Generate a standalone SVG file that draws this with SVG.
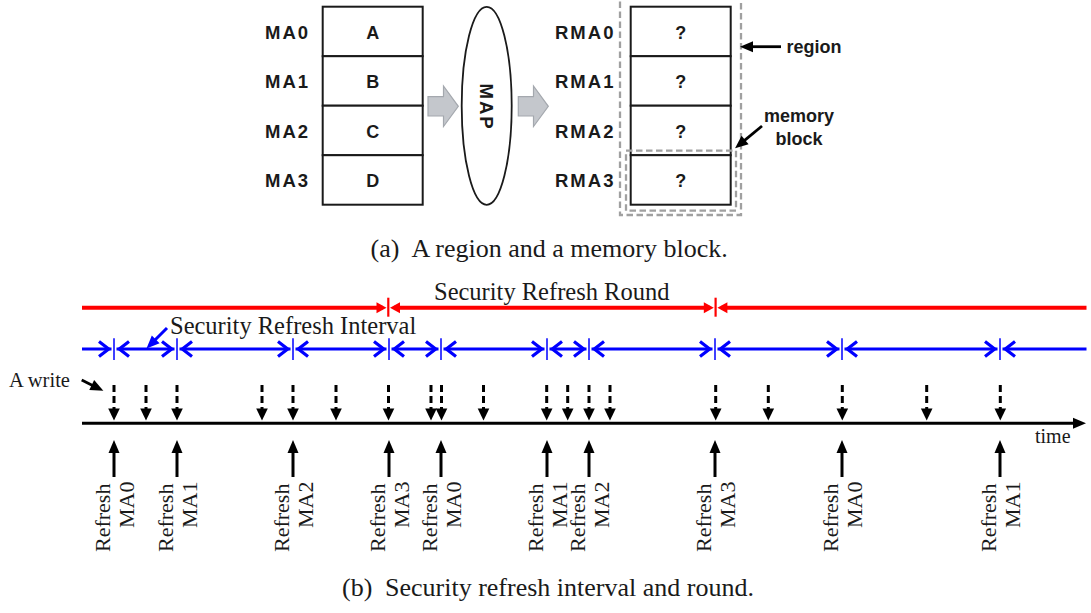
<svg xmlns="http://www.w3.org/2000/svg" width="1091" height="613" viewBox="0 0 1091 613">
  <style>
    .lbl { font-family: "Liberation Sans", Arial, sans-serif; font-weight: bold; font-size: 18px; fill: #1a1a1a; }
    .sp { font-size: 18.5px; letter-spacing: 2px; }
    .cell { fill: #ffffff; stroke: #1a1a1a; stroke-width: 2; }
    .blk { fill: #c4c7cc; stroke: #a4a8ae; stroke-width: 1.2; }
    .dash { fill: none; stroke: #a0a0a0; stroke-width: 2.3; stroke-dasharray: 6.5 3.5; }
    .serif { font-family: "Liberation Serif", "Times New Roman", serif; fill: #1a1a1a; }
    .cap { font-size: 26px; }
    .big { font-size: 24.5px; }
    .rf { font-size: 22px; }
    .red { stroke: #ff0000; stroke-width: 4; fill: none; }
    .blue { stroke: #0000ff; stroke-width: 3; fill: none; }
    .btick { stroke: #0000ff; stroke-width: 1.5; }
    .rtick { stroke: #ff0000; stroke-width: 2.2; }
    .wr { stroke: #000; stroke-width: 3; stroke-dasharray: 7 4; marker-end: url(#wtri); }
    .up { stroke: #000; stroke-width: 3; marker-end: url(#tri); }
    .ink { stroke: #000; stroke-width: 2.8; fill: none; }
  </style>
  <defs>
    <marker id="chev" markerUnits="userSpaceOnUse" viewBox="-16 -10 20 20" refX="0" refY="0" markerWidth="20" markerHeight="20" orient="auto-start-reverse" overflow="visible">
      <path d="M-12.5,-7.5 L-2.8,0 L-12.5,7.5" fill="none" stroke="#0000ff" stroke-width="3.2"/>
    </marker>
    <marker id="rtri" markerUnits="userSpaceOnUse" viewBox="-10 -8 16 16" refX="0" refY="0" markerWidth="16" markerHeight="16" orient="auto-start-reverse" overflow="visible">
      <path d="M-6,-5.5 L4,0 L-6,5.5 Z" fill="#ff0000"/>
    </marker>
    <marker id="tri" markerUnits="userSpaceOnUse" viewBox="-2 -8 16 16" refX="0" refY="0" markerWidth="16" markerHeight="16" orient="auto" overflow="visible">
      <path d="M-1,-5.5 L12,0 L-1,5.5 Z" fill="#000"/>
    </marker>
    <marker id="wtri" markerUnits="userSpaceOnUse" viewBox="-2 -8 16 16" refX="0" refY="0" markerWidth="16" markerHeight="16" orient="auto" overflow="visible">
      <path d="M-1,-5.8 L11,0 L-1,5.8 Z" fill="#000"/>
    </marker>
    <marker id="btri" markerUnits="userSpaceOnUse" viewBox="-2 -8 16 16" refX="0" refY="0" markerWidth="16" markerHeight="16" orient="auto" overflow="visible">
      <path d="M-1,-5.5 L12,0 L-1,5.5 Z" fill="#0000ff"/>
    </marker>
  </defs>

  <rect width="1091" height="613" fill="#ffffff"/>

  <!-- (a) memory addresses, mapping and remapped region -->
  <g id="ma-table">
    <g id="ma0"><rect class="cell" x="322.7" y="6.7" width="100" height="49.5"/><text class="lbl sp" x="265" y="38.5">MA0</text><text class="lbl" x="372.7" y="38.5" text-anchor="middle">A</text></g>
    <g id="ma1"><rect class="cell" x="322.7" y="56.2" width="100" height="49.5"/><text class="lbl sp" x="265" y="88">MA1</text><text class="lbl" x="372.7" y="88" text-anchor="middle">B</text></g>
    <g id="ma2"><rect class="cell" x="322.7" y="105.7" width="100" height="49.5"/><text class="lbl sp" x="265" y="137.5">MA2</text><text class="lbl" x="372.7" y="137.5" text-anchor="middle">C</text></g>
    <g id="ma3"><rect class="cell" x="322.7" y="155.2" width="100" height="49.5"/><text class="lbl sp" x="265" y="187">MA3</text><text class="lbl" x="372.7" y="187" text-anchor="middle">D</text></g>
  </g>

  <g id="map">
    <ellipse cx="486.7" cy="105.8" rx="25" ry="99" fill="#ffffff" stroke="#1a1a1a" stroke-width="1.8"/>
    <text class="lbl sp" transform="translate(480,83.5) rotate(90)">MAP</text>
  </g>

  <g id="rma-table">
    <g id="rma0"><rect class="cell" x="630.7" y="6.7" width="100" height="49.5"/><text class="lbl sp" x="555" y="38.5">RMA0</text><text class="lbl" x="680.7" y="38.5" text-anchor="middle">?</text></g>
    <g id="rma1"><rect class="cell" x="630.7" y="56.2" width="100" height="49.5"/><text class="lbl sp" x="555" y="88">RMA1</text><text class="lbl" x="680.7" y="88" text-anchor="middle">?</text></g>
    <g id="rma2"><rect class="cell" x="630.7" y="105.7" width="100" height="49.5"/><text class="lbl sp" x="555" y="137.5">RMA2</text><text class="lbl" x="680.7" y="137.5" text-anchor="middle">?</text></g>
    <g id="rma3"><rect class="cell" x="630.7" y="155.2" width="100" height="49.5"/><text class="lbl sp" x="555" y="187">RMA3</text><text class="lbl" x="680.7" y="187" text-anchor="middle">?</text></g>
  </g>

  <g id="region"><rect class="dash" x="620" y="-6" width="121" height="221"/></g>
  <g id="memory-block"><rect class="dash" x="626" y="150.7" width="110" height="60"/></g>

  <g id="region-label"><text class="lbl" x="786.5" y="53">region</text></g>
  <g id="memory-block-label">
    <text class="lbl" x="799" y="121.5" text-anchor="middle">memory</text>
    <text class="lbl" x="799" y="145" text-anchor="middle">block</text>
  </g>

  <g id="caption-a" class="serif cap">
    <text x="370.5" y="256.7">(a)</text>
    <text x="411.5" y="256.7">A region and a memory block.</text>
  </g>

  <!-- (b) timeline labels -->
  <g id="round-label"><text class="serif big" x="434" y="300">Security Refresh Round</text></g>
  <g id="interval-label"><text class="serif big" x="170" y="334">Security Refresh Interval</text></g>
  <g id="write-label"><text class="serif" font-size="20.5" x="9" y="387">A write</text></g>
  <g id="time-label"><text class="serif" font-size="20" x="1035" y="443">time</text></g>

  <g id="refresh-labels" class="serif rf">
    <text transform="translate(109.7,552) rotate(-90)">Refresh</text><text transform="translate(134,528) rotate(-90)">MA0</text>
    <text transform="translate(172.7,552) rotate(-90)">Refresh</text><text transform="translate(197,528) rotate(-90)">MA1</text>
    <text transform="translate(288.7,552) rotate(-90)">Refresh</text><text transform="translate(313,528) rotate(-90)">MA2</text>
    <text transform="translate(384.7,552) rotate(-90)">Refresh</text><text transform="translate(409,528) rotate(-90)">MA3</text>
    <text transform="translate(436.7,552) rotate(-90)">Refresh</text><text transform="translate(461,528) rotate(-90)">MA0</text>
    <text transform="translate(542.7,552) rotate(-90)">Refresh</text><text transform="translate(567,528) rotate(-90)">MA1</text>
    <text transform="translate(584.7,552) rotate(-90)">Refresh</text><text transform="translate(609,528) rotate(-90)">MA2</text>
    <text transform="translate(710.7,552) rotate(-90)">Refresh</text><text transform="translate(735,528) rotate(-90)">MA3</text>
    <text transform="translate(837.7,552) rotate(-90)">Refresh</text><text transform="translate(862,528) rotate(-90)">MA0</text>
    <text transform="translate(995.7,552) rotate(-90)">Refresh</text><text transform="translate(1020,528) rotate(-90)">MA1</text>
  </g>

  <g id="caption-b" class="serif cap">
    <text x="342" y="596">(b)</text>
    <text x="385" y="596">Security refresh interval and round.</text>
  </g>

  <!-- connectors -->
  <g id="connectors">
    <!-- block arrows into and out of MAP -->
    <path class="blk" d="M428,96.7 H443.5 V86 L458.3,106.3 L443.5,126.5 V116 H428 Z"/>
    <path class="blk" d="M518.3,96.7 H533.5 V86 L548.3,106.3 L533.5,126.5 V116 H518.3 Z"/>

    <!-- callouts -->
    <line class="ink" x1="781" y1="46.7" x2="752" y2="46.7" marker-end="url(#tri)"/>
    <line class="ink" x1="762" y1="126" x2="744.3" y2="140.7" marker-end="url(#tri)"/>

    <!-- round (red) -->
    <line class="red" x1="82" y1="307.7" x2="382.5" y2="307.7" marker-end="url(#rtri)"/>
    <line class="red" x1="394" y1="307.7" x2="709.8" y2="307.7" marker-start="url(#rtri)" marker-end="url(#rtri)"/>
    <line class="red" x1="721.4" y1="307.7" x2="1086.5" y2="307.7" marker-start="url(#rtri)"/>
    <line class="rtick" x1="388.3" y1="297.7" x2="388.3" y2="316.7"/>
    <line class="rtick" x1="715.6" y1="297.7" x2="715.6" y2="316.7"/>

    <!-- intervals (blue) -->
    <line class="blue" x1="82" y1="349" x2="111.5" y2="349" marker-end="url(#chev)"/>
    <line class="blue" x1="116.5" y1="349" x2="174.5" y2="349" marker-start="url(#chev)" marker-end="url(#chev)"/>
    <line class="blue" x1="179.5" y1="349" x2="290.5" y2="349" marker-start="url(#chev)" marker-end="url(#chev)"/>
    <line class="blue" x1="295.5" y1="349" x2="386.5" y2="349" marker-start="url(#chev)" marker-end="url(#chev)"/>
    <line class="blue" x1="391.5" y1="349" x2="438.5" y2="349" marker-start="url(#chev)" marker-end="url(#chev)"/>
    <line class="blue" x1="443.5" y1="349" x2="544.5" y2="349" marker-start="url(#chev)" marker-end="url(#chev)"/>
    <line class="blue" x1="549.5" y1="349" x2="586.5" y2="349" marker-start="url(#chev)" marker-end="url(#chev)"/>
    <line class="blue" x1="591.5" y1="349" x2="712.5" y2="349" marker-start="url(#chev)" marker-end="url(#chev)"/>
    <line class="blue" x1="717.5" y1="349" x2="839.5" y2="349" marker-start="url(#chev)" marker-end="url(#chev)"/>
    <line class="blue" x1="844.5" y1="349" x2="997.5" y2="349" marker-start="url(#chev)" marker-end="url(#chev)"/>
    <line class="blue" x1="1002.5" y1="349" x2="1086.5" y2="349" marker-start="url(#chev)"/>
    <g class="btick">
      <line x1="114" y1="338.3" x2="114" y2="360"/>
      <line x1="177" y1="338.3" x2="177" y2="360"/>
      <line x1="293" y1="338.3" x2="293" y2="360"/>
      <line x1="389" y1="338.3" x2="389" y2="360"/>
      <line x1="441" y1="338.3" x2="441" y2="360"/>
      <line x1="547" y1="338.3" x2="547" y2="360"/>
      <line x1="589" y1="338.3" x2="589" y2="360"/>
      <line x1="715" y1="338.3" x2="715" y2="360"/>
      <line x1="842" y1="338.3" x2="842" y2="360"/>
      <line x1="1000" y1="338.3" x2="1000" y2="360"/>
    </g>
    <line class="blue" x1="167" y1="328" x2="155" y2="340" marker-end="url(#btri)"/>

    <!-- writes (dashed) -->
    <g>
      <line class="wr" x1="114" y1="385" x2="114" y2="409.5"/>
      <line class="wr" x1="146" y1="385" x2="146" y2="409.5"/>
      <line class="wr" x1="177" y1="385" x2="177" y2="409.5"/>
      <line class="wr" x1="262" y1="385" x2="262" y2="409.5"/>
      <line class="wr" x1="293" y1="385" x2="293" y2="409.5"/>
      <line class="wr" x1="336" y1="385" x2="336" y2="409.5"/>
      <line class="wr" x1="388.5" y1="385" x2="388.5" y2="409.5"/>
      <line class="wr" x1="431" y1="385" x2="431" y2="409.5"/>
      <line class="wr" x1="441.5" y1="385" x2="441.5" y2="409.5"/>
      <line class="wr" x1="483.5" y1="385" x2="483.5" y2="409.5"/>
      <line class="wr" x1="546.7" y1="385" x2="546.7" y2="409.5"/>
      <line class="wr" x1="567.7" y1="385" x2="567.7" y2="409.5"/>
      <line class="wr" x1="589" y1="385" x2="589" y2="409.5"/>
      <line class="wr" x1="610" y1="385" x2="610" y2="409.5"/>
      <line class="wr" x1="715.7" y1="385" x2="715.7" y2="409.5"/>
      <line class="wr" x1="768.3" y1="385" x2="768.3" y2="409.5"/>
      <line class="wr" x1="842.3" y1="385" x2="842.3" y2="409.5"/>
      <line class="wr" x1="926.7" y1="385" x2="926.7" y2="409.5"/>
      <line class="wr" x1="1000.3" y1="385" x2="1000.3" y2="409.5"/>
    </g>
    <line class="ink" x1="81.7" y1="380" x2="92.6" y2="385.4" marker-end="url(#tri)"/>

    <!-- time axis -->
    <line x1="82" y1="423.3" x2="1074" y2="423.3" stroke="#000" stroke-width="3" marker-end="url(#tri)"/>

    <!-- refresh events -->
    <g>
      <line class="up" x1="114" y1="477" x2="114" y2="452"/>
      <line class="up" x1="177" y1="477" x2="177" y2="452"/>
      <line class="up" x1="293" y1="477" x2="293" y2="452"/>
      <line class="up" x1="389" y1="477" x2="389" y2="452"/>
      <line class="up" x1="441" y1="477" x2="441" y2="452"/>
      <line class="up" x1="547" y1="477" x2="547" y2="452"/>
      <line class="up" x1="589" y1="477" x2="589" y2="452"/>
      <line class="up" x1="715" y1="477" x2="715" y2="452"/>
      <line class="up" x1="842" y1="477" x2="842" y2="452"/>
      <line class="up" x1="1000" y1="477" x2="1000" y2="452"/>
    </g>
  </g>
</svg>
